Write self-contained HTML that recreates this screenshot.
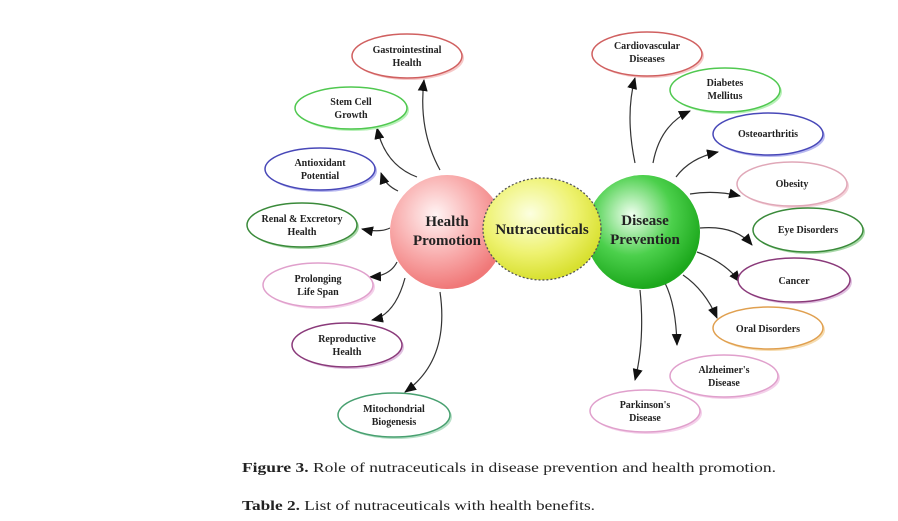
<!DOCTYPE html>
<html><head><meta charset="utf-8"><style>
html,body{margin:0;padding:0;background:#fff;}
svg{display:block;}
.t{font-family:"Liberation Serif",serif;font-weight:bold;font-size:10px;fill:#222;text-anchor:middle;}
.b{font-family:"Liberation Serif",serif;font-weight:bold;font-size:15px;fill:#222;text-anchor:middle;}
.c{font-family:"Liberation Serif",serif;font-size:14px;fill:#222;}
path.a{fill:none;stroke:#333;stroke-width:1.2;marker-end:url(#ar);}
</style></head><body>
<svg width="898" height="521" viewBox="0 0 898 521" xmlns="http://www.w3.org/2000/svg">
<defs>
<marker id="ar" markerWidth="12" markerHeight="10" refX="11" refY="5" orient="auto" markerUnits="userSpaceOnUse"><path d="M0,0 L12,5 L0,10 Z" fill="#111"/></marker>
<radialGradient id="gr" cx="40%" cy="35%" r="65%"><stop offset="0" stop-color="#fff4f4"/><stop offset="0.6" stop-color="#f8a8a8"/><stop offset="1" stop-color="#f07878"/></radialGradient>
<radialGradient id="gy" cx="40%" cy="35%" r="65%"><stop offset="0" stop-color="#fcffe0"/><stop offset="0.6" stop-color="#eef270"/><stop offset="1" stop-color="#d8e030"/></radialGradient>
<radialGradient id="gg" cx="40%" cy="35%" r="65%"><stop offset="0" stop-color="#f0fff0"/><stop offset="0.55" stop-color="#4cd04c"/><stop offset="1" stop-color="#1ca81c"/></radialGradient>
</defs>
<rect width="898" height="521" fill="#fff"/>

<path class="a" d="M440,170 Q418,130 424,80"/>
<path class="a" d="M417,177 Q385,165 377,128"/>
<path class="a" d="M398,191 Q385,185 381,173"/>
<path class="a" d="M390,228 Q380,233 362,229"/>
<path class="a" d="M397,262 Q390,276 370,277"/>
<path class="a" d="M405,278 Q395,315 372,320"/>
<path class="a" d="M440,292 Q450,360 405,392"/>
<path class="a" d="M635,163 Q625,115 635,78"/>
<path class="a" d="M653,163 Q660,125 690,111"/>
<path class="a" d="M676,177 Q690,158 718,152"/>
<path class="a" d="M690,194 Q715,190 740,196"/>
<path class="a" d="M700,228 Q735,225 752,245"/>
<path class="a" d="M697,252 Q725,262 740,282"/>
<path class="a" d="M683,275 Q705,290 717,318"/>
<path class="a" d="M665,283 Q676,305 677,345"/>
<path class="a" d="M640,290 Q645,340 635,380"/>

<g stroke-width="1.5">
<ellipse cx="409" cy="58" rx="55" ry="22" fill="#f6c8c8" stroke="none"/>
<ellipse cx="407" cy="56" rx="55" ry="22" fill="#fff" stroke="#d06060"/>
<ellipse cx="353" cy="110" rx="56" ry="21" fill="#b8f0b8" stroke="none"/>
<ellipse cx="351" cy="108" rx="56" ry="21" fill="#fff" stroke="#50c850"/>
<ellipse cx="322" cy="171" rx="55" ry="21" fill="#b8b8f0" stroke="none"/>
<ellipse cx="320" cy="169" rx="55" ry="21" fill="#fff" stroke="#4848b8"/>
<ellipse cx="304" cy="227" rx="55" ry="22" fill="#a8d8a8" stroke="none"/>
<ellipse cx="302" cy="225" rx="55" ry="22" fill="#fff" stroke="#3a8a3a"/>
<ellipse cx="320" cy="287" rx="55" ry="22" fill="#f4d0ea" stroke="none"/>
<ellipse cx="318" cy="285" rx="55" ry="22" fill="#fff" stroke="#e0a0cc"/>
<ellipse cx="349" cy="347" rx="55" ry="22" fill="#e0c0e0" stroke="none"/>
<ellipse cx="347" cy="345" rx="55" ry="22" fill="#fff" stroke="#8a3a7a"/>
<ellipse cx="396" cy="417" rx="56" ry="22" fill="#b8e0c8" stroke="none"/>
<ellipse cx="394" cy="415" rx="56" ry="22" fill="#fff" stroke="#48a070"/>

<ellipse cx="649" cy="56" rx="55" ry="22" fill="#f6c8c8" stroke="none"/>
<ellipse cx="647" cy="54" rx="55" ry="22" fill="#fff" stroke="#d06060"/>
<ellipse cx="727" cy="92" rx="55" ry="22" fill="#b8f0b8" stroke="none"/>
<ellipse cx="725" cy="90" rx="55" ry="22" fill="#fff" stroke="#50c850"/>
<ellipse cx="770" cy="136" rx="55" ry="21" fill="#b8b8f0" stroke="none"/>
<ellipse cx="768" cy="134" rx="55" ry="21" fill="#fff" stroke="#4848b8"/>
<ellipse cx="794" cy="186" rx="55" ry="22" fill="#f4d0d8" stroke="none"/>
<ellipse cx="792" cy="184" rx="55" ry="22" fill="#fff" stroke="#e0a8b8"/>
<ellipse cx="810" cy="232" rx="55" ry="22" fill="#a8d8a8" stroke="none"/>
<ellipse cx="808" cy="230" rx="55" ry="22" fill="#fff" stroke="#3a8a3a"/>
<ellipse cx="796" cy="282" rx="56" ry="22" fill="#e0c0e0" stroke="none"/>
<ellipse cx="794" cy="280" rx="56" ry="22" fill="#fff" stroke="#8a3a7a"/>
<ellipse cx="770" cy="330" rx="55" ry="21" fill="#f6dcb0" stroke="none"/>
<ellipse cx="768" cy="328" rx="55" ry="21" fill="#fff" stroke="#e0a050"/>
<ellipse cx="726" cy="378" rx="54" ry="21" fill="#f4d0ea" stroke="none"/>
<ellipse cx="724" cy="376" rx="54" ry="21" fill="#fff" stroke="#e0a0cc"/>
<ellipse cx="647" cy="413" rx="55" ry="21" fill="#f4d0ea" stroke="none"/>
<ellipse cx="645" cy="411" rx="55" ry="21" fill="#fff" stroke="#e0a0cc"/>
</g>

<circle cx="447" cy="232" r="57" fill="url(#gr)"/>
<circle cx="643" cy="232" r="57" fill="url(#gg)"/>
<ellipse cx="542" cy="229" rx="59" ry="51" fill="url(#gy)" stroke="#555" stroke-width="1.3" stroke-dasharray="2,2"/>

<text class="b" x="447" y="226">Health</text>
<text class="b" x="447" y="245">Promotion</text>
<text class="b" x="542" y="234" font-size="14">Nutraceuticals</text>
<text class="b" x="645" y="225">Disease</text>
<text class="b" x="645" y="244">Prevention</text>

<text class="t" x="407" y="53">Gastrointestinal</text><text class="t" x="407" y="66">Health</text>
<text class="t" x="351" y="105">Stem Cell</text><text class="t" x="351" y="118">Growth</text>
<text class="t" x="320" y="166">Antioxidant</text><text class="t" x="320" y="179">Potential</text>
<text class="t" x="302" y="222">Renal &amp; Excretory</text><text class="t" x="302" y="235">Health</text>
<text class="t" x="318" y="282">Prolonging</text><text class="t" x="318" y="295">Life Span</text>
<text class="t" x="347" y="342">Reproductive</text><text class="t" x="347" y="355">Health</text>
<text class="t" x="394" y="412">Mitochondrial</text><text class="t" x="394" y="425">Biogenesis</text>

<text class="t" x="647" y="49">Cardiovascular</text><text class="t" x="647" y="62">Diseases</text>
<text class="t" x="725" y="86">Diabetes</text><text class="t" x="725" y="99">Mellitus</text>
<text class="t" x="768" y="137">Osteoarthritis</text>
<text class="t" x="792" y="187">Obesity</text>
<text class="t" x="808" y="233">Eye Disorders</text>
<text class="t" x="794" y="284">Cancer</text>
<text class="t" x="768" y="332">Oral Disorders</text>
<text class="t" x="724" y="373">Alzheimer's</text><text class="t" x="724" y="386">Disease</text>
<text class="t" x="645" y="408">Parkinson's</text><text class="t" x="645" y="421">Disease</text>

<text class="c" x="242" y="472" textLength="534" lengthAdjust="spacingAndGlyphs"><tspan font-weight="bold">Figure 3.</tspan> Role of nutraceuticals in disease prevention and health promotion.</text>
<text class="c" x="242" y="510" textLength="353" lengthAdjust="spacingAndGlyphs"><tspan font-weight="bold">Table 2.</tspan> List of nutraceuticals with health benefits.</text>
</svg>
</body></html>
